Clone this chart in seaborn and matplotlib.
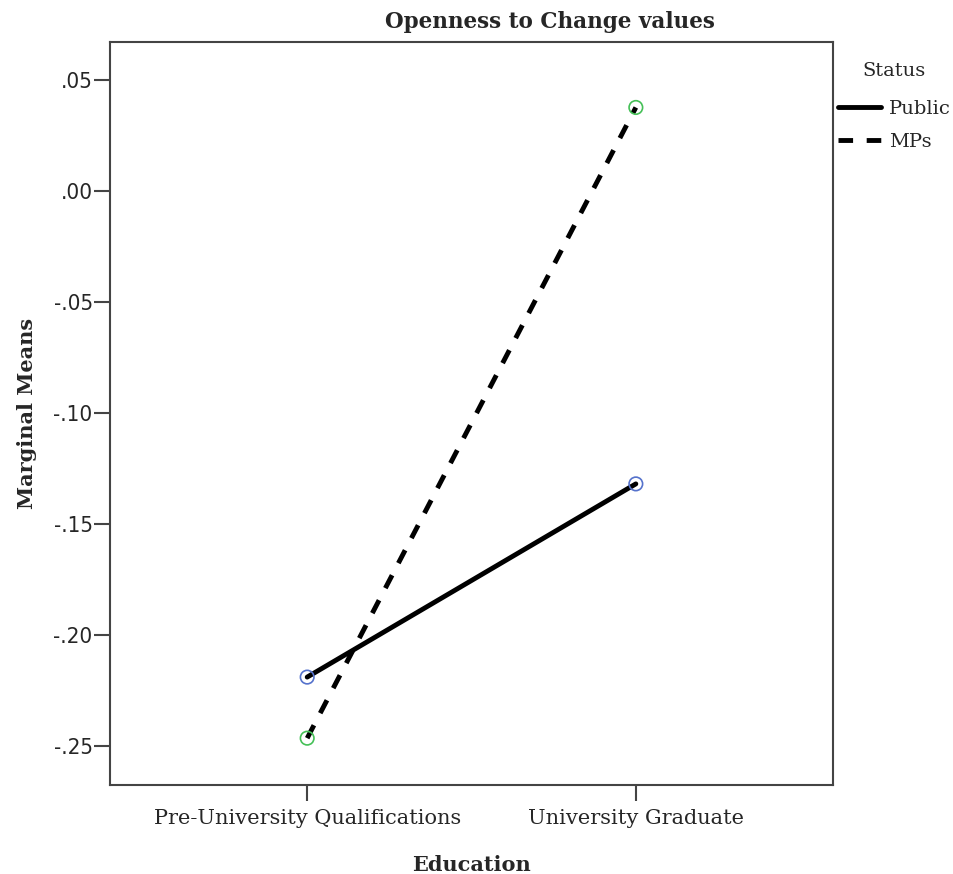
import pandas as pd
import matplotlib.pyplot as plt
import seaborn as sns
from matplotlib.lines import Line2D

# Estimated marginal means
education = ['Pre-University Qualifications', 'University Graduate']
status = ['Public', 'MPs']
public_means = [-0.219, -0.132]
mps_means = [-0.2465, 0.0375]
yticks = [0.05, 0.0, -0.05, -0.10, -0.15, -0.20, -0.25]
ytick_labels = ['.05', '.00', '-.05', '-.10', '-.15', '-.20', '-.25']

df = pd.DataFrame({
    'Education': education * 2,
    'Status': [status[0]] * 2 + [status[1]] * 2,
    'mean': public_means + mps_means,
})
df['x'] = df['Education'].map({e: i for i, e in enumerate(education)})

sns.set_style('white')
plt.rcParams['font.family'] = ['DejaVu Serif']

fig = plt.figure(figsize=(9.54, 8.74), dpi=100)
ax = fig.add_axes([0.1153, 0.1018, 0.7579, 0.8502])

dash = (3, 2.8)
sns.lineplot(data=df, x='x', y='mean', style='Status', style_order=status,
             dashes={'Public': '', 'MPs': dash}, color='black', linewidth=3.5,
             ax=ax, legend=False)
sns.scatterplot(data=df, x='x', y='mean', hue='Status', hue_order=status,
                palette={'Public': '#5572cc', 'MPs': '#45c057'}, s=95,
                linewidth=1.2, ax=ax, legend=False, zorder=3)
# open circles: edges get the hue colour
for coll in ax.collections:
    coll.set_edgecolors(coll.get_facecolors())
    coll.set_facecolor('none')

ax.set_xlim(-0.6, 1.6)
ax.set_ylim(-0.2676, 0.067)
ax.set_xticks(range(len(education)))
ax.set_xticklabels(education, fontsize=15)
ax.set_yticks(yticks)
ax.set_yticklabels(ytick_labels, fontsize=16, family='DejaVu Sans', stretch='condensed')
ax.tick_params(axis='both', direction='out', length=11.5, width=1.5, color='#444444',
               bottom=True, left=True)
ax.tick_params(axis='x', pad=6)
ax.tick_params(axis='y', pad=1)
for sp in ax.spines.values():
    sp.set_color('#444444')
    sp.set_linewidth(1.5)

ax.set_xlabel('Education', fontsize=15, fontweight='bold', labelpad=19)
ax.set_ylabel('Marginal Means', fontsize=15, fontweight='bold', labelpad=12)
ax.set_title('Openness to Change values', fontsize=15.5, fontweight='bold',
             x=0.609, pad=10)

handles = [Line2D([], [], color='black', lw=3.5, ls='-'),
           Line2D([], [], color='black', lw=3.5, ls=(0, dash))]
leg = ax.legend(handles, status, title='Status', loc='upper left',
                bbox_to_anchor=(0.996, 0.983), frameon=False, fontsize=14,
                title_fontsize=14, handlelength=2.2, handletextpad=0.41,
                borderaxespad=0, labelspacing=0.76)
leg._legend_box.align = 'center'
leg._legend_box.sep = 14

fig.savefig('out.png', dpi=100)
